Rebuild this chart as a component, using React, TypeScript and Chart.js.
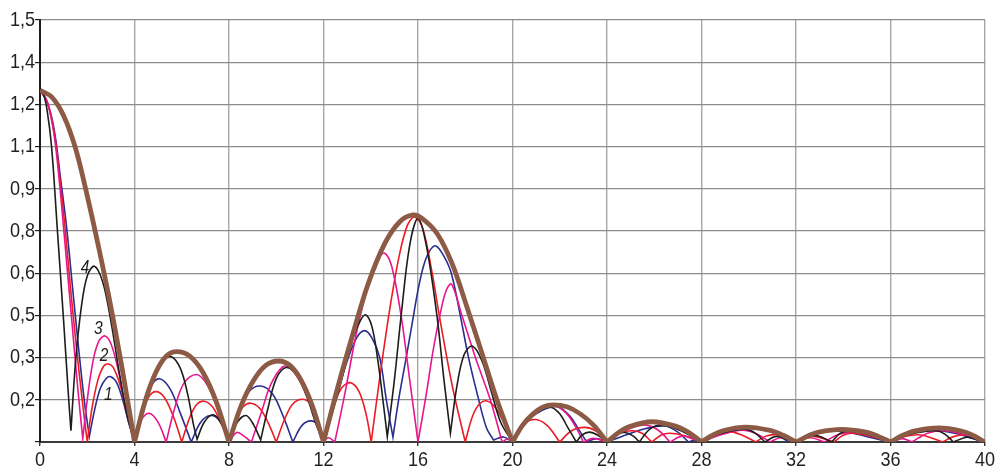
import React, { useEffect, useRef } from "react";
import { Chart, registerables } from "chart.js";

Chart.register(...registerables);

type Pt = [number, number];

// Axis ranges and tick labels
const X_MIN = 0;
const X_MAX = 40;
const X_STEP = 4;
const Y_MIN = 0;
const Y_MAX = 1.5;
const Y_STEP = 0.15;
const yTickLabels = ["", "0,2", "0,3", "0,5", "0,6", "0,8", "0,9", "1,1", "1,2", "1,4", "1,5"];

// Envelope (thick brown curve)
const envelope: Pt[] = [
  [0, 1.25], [0.5, 1.226], [1.0, 1.16], [1.5, 1.045], [2.0, 0.875], [2.5, 0.685], [3.0, 0.48], [3.5, 0.25], [4, 0],
  [4.45, 0.145], [4.9, 0.247], [5.34, 0.305], [5.79, 0.321], [6.34, 0.305], [6.9, 0.247], [7.45, 0.145], [8, 0],
  [8.52, 0.13], [9.05, 0.22], [9.57, 0.273], [10.09, 0.288], [10.57, 0.273], [11.05, 0.22], [11.52, 0.13], [12, 0],
  [12.61, 0.197], [13.25, 0.386], [13.88, 0.56], [14.59, 0.705], [15.23, 0.783], [15.79, 0.807], [16.17, 0.795], [16.8, 0.742], [17.44, 0.635], [18.07, 0.48], [18.71, 0.315], [19.34, 0.15], [20, 0],
  [20.43, 0.06], [20.87, 0.1], [21.3, 0.125], [21.73, 0.132], [22.3, 0.125], [22.87, 0.1], [23.43, 0.06], [24, 0],
  [24.48, 0.033], [24.95, 0.055], [25.9, 0.072], [26.95, 0.055], [27.48, 0.033], [28, 0],
  [28.47, 0.024], [28.94, 0.041], [29.88, 0.053], [30.9, 0.041], [31.45, 0.024], [32, 0],
  [32.48, 0.02], [32.96, 0.035], [33.93, 0.045], [34.96, 0.035], [35.48, 0.02], [36, 0],
  [36.5, 0.023], [37.0, 0.039], [38.05, 0.05], [39.0, 0.039], [39.5, 0.023], [40, 0],
];

// Curve 1 (blue)
const curve1: Pt[] = [
  [0, 1.25], [0.3, 1.21], [0.6, 1.11], [0.88, 0.93], [1.13, 0.76], [1.4, 0.53], [1.65, 0.32], [1.9, 0.13], [2.09, 0.02],
  [2.3, 0.11], [2.55, 0.19], [2.8, 0.226], [3.0, 0.232], [3.25, 0.21], [3.5, 0.15], [3.75, 0.07], [4, 0],
  [4.35, 0.13], [4.7, 0.2], [5.06, 0.225], [5.5, 0.19], [5.95, 0.1], [6.4, 0],
  [6.8, 0.07], [7.22, 0.094], [7.6, 0.075], [8, 0],
  [8.4, 0.11], [8.85, 0.18], [9.34, 0.199], [9.85, 0.17], [10.3, 0.09], [10.7, 0],
  [11.1, 0.06], [11.5, 0.075], [11.8, 0.055], [12, 0],
  [12.4, 0.12], [12.97, 0.28], [13.4, 0.37], [13.74, 0.396], [14.05, 0.37], [14.38, 0.3], [14.66, 0.15], [14.94, 0.017],
  [15.2, 0.16], [15.5, 0.3], [15.75, 0.42], [16.0, 0.54], [16.25, 0.63], [16.5, 0.68], [16.76, 0.697], [17.1, 0.66], [17.41, 0.6], [17.79, 0.45], [18.14, 0.3], [18.57, 0.15], [18.9, 0.05], [19.2, 0.007],
  [19.62, 0.018], [20, 0],
  [20.5, 0.065], [21.2, 0.11], [21.87, 0.126], [22.4, 0.095], [22.8, 0.045], [23.14, 0],
  [23.55, 0.012], [24, 0],
  [24.8, 0.025], [25.6, 0.047], [26.46, 0.057], [27.0, 0.035], [27.45, 0],
  [27.72, 0.007], [28, 0],
  [28.7, 0.025], [29.6, 0.044], [30.4, 0.048], [31.1, 0.03], [31.7, 0],
  [31.85, 0.004], [32, 0],
  [32.6, 0.03], [33.3, 0.04], [34.3, 0.033], [35.2, 0.015], [36, 0],
  [36.8, 0.03], [37.8, 0.042], [38.8, 0.03], [39.5, 0.012], [40, 0],
];

// Curve 2 (red)
const curve2: Pt[] = [
  [0, 1.25], [0.3, 1.21], [0.6, 1.1], [0.85, 0.93], [1.06, 0.76], [1.3, 0.54], [1.55, 0.33], [1.8, 0.14], [2.0, 0],
  [2.2, 0.12], [2.45, 0.22], [2.7, 0.27], [2.89, 0.277], [3.1, 0.265], [3.4, 0.2], [3.7, 0.1], [4, 0],
  [4.3, 0.1], [4.6, 0.16], [4.9, 0.179], [5.25, 0.16], [5.65, 0.09], [6.0, 0],
  [6.35, 0.09], [6.65, 0.135], [6.95, 0.145], [7.3, 0.125], [7.65, 0.07], [8, 0],
  [8.3, 0.08], [8.6, 0.125], [8.92, 0.138], [9.3, 0.12], [9.65, 0.07], [10, 0],
  [10.35, 0.08], [10.7, 0.135], [11.1, 0.152], [11.45, 0.135], [11.75, 0.08], [12, 0],
  [12.35, 0.11], [12.75, 0.19], [13.13, 0.211], [13.5, 0.18], [13.8, 0.1], [14.02, 0],
  [14.4, 0.24], [14.8, 0.47], [15.2, 0.66], [15.55, 0.77], [15.86, 0.8], [16.2, 0.76], [16.6, 0.6], [16.9, 0.45], [17.45, 0.2], [18.0, 0],
  [18.3, 0.09], [18.6, 0.135], [18.92, 0.146], [19.3, 0.12], [19.65, 0.065], [20, 0],
  [20.45, 0.06], [20.93, 0.08], [21.45, 0.06], [22, 0],
  [22.5, 0.04], [23.07, 0.052], [23.55, 0.038], [24, 0],
  [24.55, 0.032], [25.11, 0.04], [25.5, 0.03], [25.9, 0],
  [26.3, 0.025], [26.67, 0.031], [27.3, 0.022], [28, 0],
  [28.6, 0.028], [29.2, 0.037], [29.7, 0.025], [30.3, 0],
  [30.7, 0.02], [31.1, 0.026], [31.55, 0.017], [32, 0],
  [32.4, 0.016], [32.8, 0.02], [33.6, 0],
  [34.0, 0.024], [34.4, 0.031], [35.2, 0.02], [36, 0],
  [36.6, 0.02], [37.3, 0.025], [38.2, 0],
  [38.7, 0.02], [39.2, 0.025], [39.6, 0.016], [40, 0],
];

// Curve 3 (magenta)
const curve3: Pt[] = [
  [0, 1.25], [0.3, 1.21], [0.6, 1.09], [0.85, 0.9], [1.0, 0.76], [1.2, 0.57], [1.4, 0.38], [1.6, 0.19], [1.81, 0.012],
  [2.0, 0.15], [2.25, 0.29], [2.5, 0.36], [2.75, 0.377], [3.0, 0.35], [3.3, 0.26], [3.65, 0.11], [4, 0],
  [4.3, 0.08], [4.62, 0.102], [5.0, 0.07], [5.34, 0],
  [5.7, 0.12], [6.1, 0.21], [6.63, 0.24], [7.1, 0.2], [7.55, 0.11], [8, 0],
  [8.33, 0.034], [8.65, 0.02], [8.95, 0],
  [9.35, 0.1], [9.8, 0.21], [10.36, 0.27], [10.9, 0.23], [11.45, 0.13], [12, 0.003],
  [12.22, 0.015], [12.48, 0],
  [12.9, 0.17], [13.4, 0.39], [13.9, 0.56], [14.3, 0.65], [14.59, 0.671], [14.9, 0.62], [15.3, 0.44], [15.65, 0.22], [16.0, 0],
  [16.35, 0.17], [16.65, 0.33], [16.95, 0.46], [17.2, 0.54], [17.42, 0.561], [17.86, 0.45], [18.43, 0.3], [19.06, 0.15], [19.56, 0],
  [19.78, 0.01], [20, 0],
  [20.5, 0.07], [21.1, 0.113], [21.8, 0.128], [22.3, 0.1], [22.7, 0.05], [23.0, 0],
  [23.42, 0.013], [24, 0],
  [24.5, 0.03], [25.1, 0.052], [25.68, 0.06], [26.2, 0.04], [26.67, 0],
  [27.16, 0.021], [27.6, 0.012], [28, 0],
  [28.8, 0.025], [29.7, 0.042], [30.3, 0.03], [30.9, 0],
  [31.35, 0.015], [32, 0],
  [32.6, 0.015], [33.2, 0],
  [33.8, 0.027], [34.5, 0.035], [35.3, 0.022], [36, 0],
  [36.5, 0.012], [36.9, 0],
  [37.6, 0.032], [38.3, 0.04], [39.2, 0.025], [40, 0],
];

// Curve 4 (black)
const curve4: Pt[] = [
  [0, 1.25], [0.15, 1.235], [0.3, 1.18], [0.49, 1.05], [0.73, 0.76], [1.0, 0.43], [1.2, 0.17], [1.31, 0.04],
  [1.5, 0.28], [1.75, 0.48], [2.0, 0.59], [2.3, 0.625], [2.65, 0.57], [3.0, 0.43], [3.35, 0.25], [3.7, 0.09], [4, 0],
  [4.44, 0.15], [4.9, 0.25], [5.2, 0.29], [5.57, 0.303], [5.95, 0.26], [6.25, 0.17], [6.5, 0.06], [6.65, 0.01],
  [6.95, 0.07], [7.32, 0.097], [7.65, 0.07], [8, 0],
  [8.35, 0.07], [8.72, 0.094], [9.05, 0.06], [9.34, 0.007],
  [9.65, 0.12], [10.0, 0.225], [10.42, 0.265], [10.9, 0.235], [11.3, 0.16], [11.7, 0.06], [12, 0],
  [12.6, 0.17], [13.25, 0.37], [13.55, 0.43], [13.78, 0.452], [14.05, 0.41], [14.3, 0.29], [14.5, 0.16], [14.7, 0.019],
  [15.0, 0.22], [15.3, 0.46], [15.65, 0.7], [16.0, 0.795], [16.35, 0.7], [16.8, 0.45], [17.1, 0.22], [17.37, 0.031],
  [17.65, 0.2], [17.95, 0.31], [18.29, 0.341], [18.7, 0.29], [19.1, 0.18], [19.5, 0.07], [20, 0],
  [20.4, 0.06], [20.9, 0.105], [21.3, 0.12], [21.66, 0.123], [22.0, 0.1], [22.35, 0.05], [22.7, 0],
  [22.95, 0.025], [23.25, 0.035], [23.6, 0.025], [24, 0],
  [24.4, 0.028], [24.76, 0.034], [25.1, 0.022], [25.37, 0],
  [25.8, 0.045], [26.29, 0.06], [26.9, 0.048], [27.5, 0.024], [28, 0],
  [28.6, 0.025], [29.3, 0.04], [29.91, 0.045], [30.3, 0.03], [30.69, 0],
  [31.11, 0.019], [31.55, 0.012], [32, 0],
  [32.45, 0.017], [32.9, 0.022], [33.51, 0],
  [33.85, 0.03], [34.2, 0.038], [34.9, 0.03], [35.5, 0.015], [36, 0],
  [36.7, 0.025], [37.4, 0.037], [37.95, 0.04], [38.3, 0.028], [38.66, 0],
  [39.22, 0.017], [39.6, 0.01], [40, 0],
];

// Curve numbers written next to the first side lobes
const curveNames = ["1", "2", "3", "4"];
const curveNameX = [2.89, 2.71, 2.47, 1.905];
const curveNameY = [0.167, 0.306, 0.402, 0.618];

const LABEL_FONT = "'Liberation Sans', Arial, Helvetica, sans-serif";
const LABEL_SQUEEZE = 0.86;

// Repeats each local minimum so the spline meets it with a sharp corner
function withCusps(points: Pt[]) {
  const out: { x: number; y: number }[] = [];
  points.forEach(([x, y], i) => {
    out.push({ x, y });
    const prev = points[i - 1];
    const next = points[i + 1];
    if (prev && next && y <= prev[1] && y <= next[1]) out.push({ x, y });
  });
  return out;
}

// Draws a horizontally condensed text run anchored at (x, y)
function condensedText(ctx: CanvasRenderingContext2D, text: string, x: number, y: number, align: CanvasTextAlign) {
  ctx.save();
  ctx.translate(x, y);
  ctx.scale(LABEL_SQUEEZE, 1);
  ctx.textAlign = align;
  ctx.fillText(text, 0, 0);
  ctx.restore();
}

const axisLabelPlugin = {
  id: "axisLabels",
  afterDraw(chart: any) {
    const { ctx, scales } = chart;
    ctx.save();
    ctx.font = `21px ${LABEL_FONT}`;
    ctx.fillStyle = "#231f20";
    ctx.textBaseline = "middle";
    scales.y.ticks.forEach((t: any, i: number) => {
      const label = yTickLabels[i] ?? "";
      if (label) condensedText(ctx, label, scales.y.right - 5, scales.y.getPixelForValue(t.value), "right");
    });
    scales.x.ticks.forEach((t: any) => {
      condensedText(ctx, String(t.value), scales.x.getPixelForValue(t.value), scales.x.top + 18, "center");
    });
    ctx.font = `italic 18px ${LABEL_FONT}`;
    ctx.fillStyle = "#1d1d1b";
    curveNames.forEach((name, i) => {
      condensedText(ctx, name, scales.x.getPixelForValue(curveNameX[i]), scales.y.getPixelForValue(curveNameY[i]), "center");
    });
    ctx.restore();
  },
};

export default function App() {
  const canvasRef = useRef<HTMLCanvasElement>(null);

  useEffect(() => {
    const canvas = canvasRef.current;
    if (!canvas) return;
    const line = (data: Pt[], color: string, width: number, order: number) => ({
      data: withCusps(data),
      borderColor: color,
      borderWidth: width,
      pointRadius: 0,
      fill: false,
      tension: 0.35,
      order,
    });
    const chart = new Chart(canvas, {
      type: "line",
      data: {
        datasets: [
          { label: "envelope", ...line(envelope, "#8d5b45", 4.8, 0) },
          { label: "4", ...line(curve4, "#1d1d1b", 1.6, 1) },
          { label: "3", ...line(curve3, "#e8168c", 1.6, 2) },
          { label: "2", ...line(curve2, "#ec1c24", 1.6, 3) },
          { label: "1", ...line(curve1, "#2b2e8f", 1.6, 4) },
        ],
      },
      options: {
        animation: false,
        responsive: false,
        devicePixelRatio: 1,
        layout: { padding: { top: 20, right: 11, left: 0, bottom: 0 } },
        plugins: { legend: { display: false }, tooltip: { enabled: false } },
        scales: {
          x: {
            type: "linear",
            min: X_MIN,
            max: X_MAX,
            afterFit: (scale: any) => {
              scale.height = 28;
              scale.paddingLeft = 0;
              scale.paddingRight = 0;
            },
            ticks: { stepSize: X_STEP, display: false },
            grid: { color: "#a8a8a8", lineWidth: 1.4, tickLength: 4, tickColor: "#333" },
            border: { color: "#3a3a3a", width: 2 },
          },
          y: {
            type: "linear",
            min: Y_MIN,
            max: Y_MAX,
            afterFit: (scale: any) => {
              scale.width = 40;
              scale.paddingTop = 0;
              scale.paddingBottom = 0;
            },
            ticks: { stepSize: Y_STEP, display: false },
            grid: { color: "#8c8c8c", lineWidth: 1.2, tickLength: 5, tickColor: "#1d1d1b" },
            border: { color: "#1d1d1b", width: 2 },
          },
        },
      },
      plugins: [axisLabelPlugin],
    });
    return () => chart.destroy();
  }, []);

  return (
    <div style={{ position: "absolute", left: 0, top: 0, width: 996, height: 470, background: "#fff" }}>
      <canvas ref={canvasRef} width={996} height={470} style={{ display: "block", width: 996, height: 470 }} />
    </div>
  );
}
